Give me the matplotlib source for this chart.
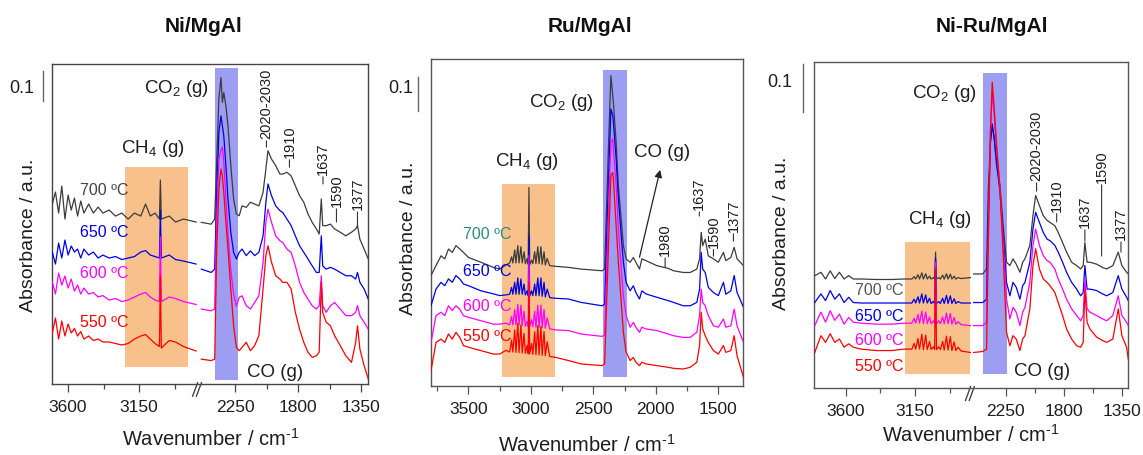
import numpy as np
import matplotlib
matplotlib.use("Agg")
import matplotlib.pyplot as plt
from matplotlib.ticker import FixedLocator
from matplotlib.scale import FuncScale
from matplotlib.transforms import blended_transform_factory

plt.rcParams['font.family'] = ['Liberation Sans', 'DejaVu Sans']
plt.rcParams['mathtext.fontset'] = 'custom'
plt.rcParams['mathtext.rm'] = 'Liberation Sans'
plt.rcParams['mathtext.it'] = 'Liberation Sans:italic'
plt.rcParams['mathtext.bf'] = 'Liberation Sans:bold'

# ---------------- data ----------------
temperatures = ['700 ºC', '650 ºC', '600 ºC', '550 ºC']
panel_titles = ['Ni/MgAl', 'Ru/MgAl', 'Ni-Ru/MgAl']

# Ni/MgAl  (left part of broken axis)
ni_wn_left = [3700, 3680, 3660, 3640, 3620, 3600, 3580, 3560, 3540, 3520, 3500, 3470, 3440, 3410,
              3380, 3340, 3300, 3260, 3220, 3180, 3140, 3110, 3080, 3050, 3022, 3016, 3010, 2960,
              2920, 2870, 2790]
ni_left_700 = [.60, .64, .57, .66, .55, .63, .58, .62, .56, .61, .57, .60, .57, .59, .57, .58, .56,
               .57, .55, .57, .56, .60, .56, .57, .55, .68, .55, .56, .54, .55, .54]
ni_left_650 = [.44, .40, .47, .42, .48, .43, .46, .44, .45, .42, .45, .43, .44, .42, .43, .42, .425,
               .415, .42, .425, .44, .445, .43, .425, .42, .58, .42, .43, .415, .41, .40]
ni_left_600 = [.34, .30, .37, .33, .36, .32, .35, .31, .33, .30, .32, .30, .305, .29, .295, .28, .285,
               .275, .28, .29, .30, .305, .29, .28, .275, .49, .275, .29, .285, .275, .265]
ni_left_550 = [.17, .22, .15, .21, .16, .20, .17, .185, .16, .175, .15, .16, .145, .15, .14, .14, .135,
               .13, .135, .15, .16, .165, .15, .135, .125, .36, .12, .145, .14, .125, .11]
# Ni/MgAl  (right part of broken axis)
ni_wn_right = [2490, 2420, 2395, 2380, 2365, 2350, 2340, 2330, 2315, 2300, 2280, 2260, 2240, 2220,
               2200, 2170, 2140, 2110, 2080, 2050, 2030, 2015, 1990, 1960, 1930, 1910, 1880, 1850,
               1820, 1790, 1760, 1730, 1700, 1670, 1650, 1635, 1625, 1600, 1570, 1540, 1500, 1460,
               1420, 1390, 1377, 1360, 1330, 1300]
ni_right_700 = [.539, .533, .55, .75, .95, 1.022, .939, .972, .928, .861, .728, .617, .567, .561, .594,
                .589, .606, .6, .594, .639, .717, .778, .75, .728, .7, .7, .706, .694, .661, .628, .606,
                .567, .539, .517, .5, .617, .528, .528, .533, .517, .506, .494, .506, .517, .528, .483,
                .45, .417]
ni_right_650 = [.383, .372, .383, .639, .839, .894, .861, .828, .728, .617, .506, .439, .417, .439, .45,
                .428, .444, .428, .439, .494, .606, .667, .628, .594, .578, .572, .55, .528, .494, .461,
                .439, .417, .394, .372, .372, .494, .394, .383, .389, .383, .372, .361, .361, .35, .372,
                .339, .317, .283]
ni_right_600 = [.25, .244, .25, .561, .75, .78, .79, .74, .62, .50, .38, .30, .26, .289, .294, .261, .25,
                .272, .294, .406, .539, .583, .539, .494, .478, .472, .45, .439, .394, .339, .306, .283,
                .261, .25, .261, .361, .261, .239, .261, .272, .25, .228, .228, .239, .261, .228, .206,
                .183]
ni_right_550 = [.083, .078, .083, .45, .65, .717, .694, .639, .539, .45, .317, .194, .122, .111, .122,
                .139, .111, .128, .161, .317, .428, .461, .406, .361, .35, .339, .339, .317, .239, .183,
                .139, .106, .089, .094, .106, .339, .239, .206, .194, .161, .128, .094, .072, .139, .194,
                .117, .061, .017]

# Ru/MgAl (continuous axis)
ru_wn = [3800, 3760, 3720, 3690, 3660, 3630, 3600, 3570, 3540, 3500, 3400, 3300, 3250,
         3200, 3170, 3155, 3145, 3130, 3120, 3105, 3095, 3080, 3070, 3055, 3045, 3030, 3022, 3016,
         3010, 2995, 2985, 2970, 2960, 2945, 2935, 2920, 2910, 2895, 2885, 2870, 2850, 2800,
         2700, 2600, 2430, 2410, 2380, 2360, 2345, 2340, 2318, 2300, 2273, 2260, 2238, 2206, 2180,
         2160, 2131, 2112, 2080, 1992, 1900, 1859, 1780, 1725, 1672, 1650, 1637, 1625, 1605, 1580,
         1539, 1500, 1459, 1440, 1400, 1373, 1350, 1298]
ru_700 = [.325, .354, .383, .374, .403, .393, .413, .403, .393, .378, .364, .349, .344,
          .356, .362, .38, .362, .40, .362, .413, .362, .41, .362, .395, .36, .375, .358, .584,
          .356, .37, .36, .395, .36, .41, .36, .41, .358, .395, .356, .375, .354, .352,
          .349, .344, .339, .344, .697, .913, .854, .834, .717, .589, .472, .413, .374, .364, .378,
          .364, .344, .374, .369, .354, .346, .339, .334, .334, .344, .374, .452, .413, .432, .383,
          .374, .364, .393, .369, .378, .408, .374, .354]
ru_650 = [.236, .285, .305, .295, .315, .305, .325, .315, .3, .295, .28, .271, .266,
          .268, .27, .29, .27, .305, .27, .318, .27, .315, .27, .30, .268, .28, .266, .442,
          .264, .28, .266, .30, .266, .318, .266, .318, .264, .305, .262, .285, .26, .258,
          .256, .246, .236, .241, .599, .815, .796, .775, .668, .55, .423, .364, .305, .28, .295,
          .275, .256, .28, .271, .261, .251, .246, .236, .236, .246, .285, .393, .344, .334, .29,
          .275, .266, .305, .27, .28, .325, .275, .231]
ru_600 = [.128, .207, .217, .207, .236, .222, .236, .226, .207, .202, .192, .182, .182,
          .185, .18, .205, .18, .225, .18, .24, .18, .238, .178, .22, .176, .19, .175, .383,
          .174, .195, .174, .22, .173, .238, .172, .238, .171, .225, .17, .20, .168, .165,
          .163, .153, .146, .15, .501, .717, .727, .697, .589, .462, .325, .266, .207, .173, .187,
          .173, .158, .173, .168, .163, .153, .148, .143, .143, .158, .207, .285, .246, .236, .207,
          .177, .173, .197, .173, .177, .226, .177, .128]
ru_550 = [.045, .128, .138, .128, .153, .138, .158, .143, .119, .114, .104, .094, .094,
          .105, .10, .135, .10, .165, .099, .185, .098, .18, .097, .155, .096, .12, .095, .305,
          .094, .125, .093, .16, .092, .178, .091, .175, .09, .16, .089, .13, .087, .084,
          .075, .065, .06, .065, .403, .619, .628, .609, .472, .364, .226, .158, .1, .075, .084,
          .07, .06, .07, .065, .06, .055, .052, .05, .055, .07, .119, .217, .168, .148, .128,
          .104, .094, .119, .099, .104, .148, .089, .025]

# Ni-Ru/MgAl (left part of broken axis)
nr_wn_left = [3800, 3760, 3730, 3700, 3670, 3640, 3610, 3580, 3550, 3500, 3400, 3300,
              3220, 3170, 3155, 3145, 3130, 3120, 3105, 3095, 3080, 3070, 3055, 3045, 3030, 3022,
              3016, 3010, 2995, 2985, 2970, 2960, 2945, 2935, 2920, 2910, 2895, 2885, 2870, 2850, 2790]
nr_left_700 = [.234, .241, .227, .244, .228, .241, .227, .234, .227, .227, .226, .226,
               .227, .227, .232, .227, .236, .227, .24, .227, .238, .227, .233, .227, .23, .227,
               .283, .227, .23, .227, .235, .227, .238, .227, .237, .227, .233, .227, .23, .228, .23]
nr_left_650 = [.178, .196, .182, .203, .185, .196, .178, .189, .178, .177, .177, .177,
               .177, .177, .185, .177, .19, .177, .196, .177, .194, .177, .187, .176, .18, .176,
               .27, .176, .18, .176, .187, .176, .193, .176, .192, .176, .186, .176, .18, .177, .177]
nr_left_600 = [.13, .158, .137, .161, .141, .154, .133, .147, .137, .135, .133, .133,
               .135, .135, .145, .135, .153, .135, .16, .134, .158, .134, .148, .134, .14, .134,
               .262, .134, .14, .134, .148, .134, .156, .134, .155, .133, .147, .133, .138, .132, .13]
nr_left_550 = [.074, .109, .095, .113, .095, .102, .085, .092, .085, .081, .078, .078,
               .081, .081, .093, .081, .103, .081, .112, .08, .11, .08, .097, .08, .086, .08,
               .248, .08, .086, .08, .097, .079, .108, .079, .107, .078, .096, .078, .085, .077, .074]
# Ni-Ru/MgAl (right part of broken axis)
nr_wn_right = [2500, 2430, 2400, 2387, 2370, 2356, 2340, 2322, 2296, 2271, 2245, 2219, 2195, 2170,
               2141, 2120, 2102, 2064, 2040, 2019, 1990, 1960, 1930, 1908, 1870, 1844, 1810, 1779,
               1740, 1701, 1670, 1650, 1637, 1620, 1598, 1546, 1500, 1468, 1420, 1378, 1350, 1313, 1300]
nr_right_700 = [.2375, .2375, .248, .408, .512, .547, .519, .463, .422, .338, .262, .255, .269, .258,
                .241, .262, .269, .297, .359, .401, .38, .359, .349, .345, .338, .324, .303, .283, .262,
                .255, .248, .255, .303, .262, .262, .258, .251, .248, .255, .283, .255, .241, .2375]
nr_right_650 = [.178, .178, .185, .359, .512, .55, .519, .47, .408, .317, .22, .192, .22, .21, .185,
                .213, .22, .262, .331, .366, .345, .324, .31, .307, .297, .283, .262, .241, .22, .206,
                .192, .199, .255, .206, .206, .203, .196, .192, .199, .234, .206, .189, .182]
nr_right_600 = [.13, .13, .137, .317, .533, .616, .567, .498, .415, .303, .185, .144, .168, .158, .13,
                .158, .168, .22, .297, .331, .297, .276, .265, .262, .248, .227, .206, .185, .165, .151,
                .14, .151, .227, .165, .158, .151, .144, .14, .151, .192, .151, .137, .13]
nr_right_550 = [.074, .076, .081, .29, .533, .637, .581, .505, .415, .276, .116, .088, .109, .102, .078,
                .102, .109, .165, .255, .29, .248, .227, .22, .213, .199, .178, .151, .123, .102, .088,
                .085, .095, .206, .137, .123, .106, .099, .095, .102, .165, .109, .085, .06]

major_ticks_broken = [3600, 3150, 2250, 1800, 1350]
minor_ticks_broken = [3375, 2925, 2025, 1575]
major_ticks_ru = [3500, 3000, 2500, 2000, 1500]
minor_ticks_ru = [3750, 3250, 2750, 2250, 1750]

# ---------------- style ----------------
line_colors = ['#3c3c3c', '#0000e6', '#ff00ff', '#ff0000']
ORANGE = '#f8c08a'
BLUE = '#9d9df2'
TXT = '#1e1e1e'


def broken_scale(hi, brk_hi, brk_lo, lo, px_left, px_right):
    """piecewise-linear scale squeezing the gap brk_lo..brk_hi (px_* = pixels per cm-1)"""
    r = (brk_lo - lo) * px_right
    l = r + 0.01
    t = l + (hi - brk_hi) * px_left
    xp = np.array([lo - 1e5, lo, brk_lo, brk_hi, hi, hi + 1e5])
    fp = np.array([-1e5 * px_right, 0, r, l, t, t + 1e5 * px_left])

    def fwd(x):
        return np.interp(np.asarray(x, float), xp, fp)

    def inv(u):
        return np.interp(np.asarray(u, float), fp, xp)
    return fwd, inv


def style_axes(ax, spine_color):
    for s in ax.spines.values():
        s.set_color(spine_color)
        s.set_linewidth(1.0)
    ax.set_yticks([])
    ax.tick_params(axis='x', which='major', direction='out', length=6, width=0.9,
                   color=spine_color, labelsize=12.5, pad=4.5, labelcolor=TXT)
    ax.tick_params(axis='x', which='minor', direction='out', length=3.5, width=0.9,
                   color=spine_color)


def scale_bar(ax, x_frac, y0, y1, text_x, text_y):
    tr = blended_transform_factory(ax.transAxes, ax.transData)
    ax.plot([x_frac, x_frac], [y0, y1], transform=tr, clip_on=False, color='#666666', lw=1.0)
    ax.text(text_x, text_y, '0.1', transform=tr, ha='center', va='center', fontsize=13, color=TXT)


def break_marks(ax, xf):
    for dx in (-0.012, 0.0):
        ax.plot([xf + dx - 0.008, xf + dx + 0.008], [-0.038, 0.004], transform=ax.transAxes,
                clip_on=False, color='#444444', lw=1.0)


def peak_label(ax, text, w, y_tip, y_text, fs=10.5):
    ax.annotate(text, xy=(w, y_tip), xytext=(w, y_text), rotation=90, ha='center', va='bottom',
                fontsize=fs, color=TXT,
                arrowprops=dict(arrowstyle='-', color='#333333', lw=0.8, shrinkA=0, shrinkB=0))


fig = plt.figure(figsize=(11.43, 4.56), dpi=100)
W, H = 1143.0, 456.0
ax1 = fig.add_axes([52.3 / W, (H - 385) / H, 316 / W, 320 / H])
ax2 = fig.add_axes([431 / W, (H - 387) / H, 312.3 / W, 327 / H])
ax3 = fig.add_axes([814 / W, (H - 389) / H, 314.3 / W, 326 / H])

XLAB = 'Wavenumber / cm$^{\\text{-}1}$'

# ---------- panel 1 : Ni/MgAl ----------
f1, i1 = broken_scale(3700, 2772, 2507, 1300, 1 / 6.34, 1 / 7.14)
ax1.set_xscale(FuncScale(ax1, (f1, i1)))
ax1.set_xlim(3700, 1300)
ax1.set_ylim(0, 1.067)
ax1.fill_between([3239, 2844], 0.056, 0.722, color=ORANGE, lw=0, zorder=1)
ax1.fill_between([2393, 2227], 0.013, 1.052, color=BLUE, lw=0, zorder=1)
for ys_l, ys_r, c in zip([ni_left_700, ni_left_650, ni_left_600, ni_left_550],
                         [ni_right_700, ni_right_650, ni_right_600, ni_right_550], line_colors):
    ax1.plot(ni_wn_left, ys_l, color=c, lw=0.9, zorder=3)
    ax1.plot(ni_wn_right, ys_r, color=c, lw=0.9, zorder=3)
ax1.xaxis.set_major_locator(FixedLocator(major_ticks_broken))
ax1.xaxis.set_minor_locator(FixedLocator(minor_ticks_broken))
style_axes(ax1, '#444444')
break_marks(ax1, 0.464)
scale_bar(ax1, -0.029, 0.944, 1.044, -0.096, 0.99)
ax1.text(2916, 0.99, 'CO$_2$ (g)', ha='center', va='center', fontsize=13.5, color=TXT)
ax1.text(3062, 0.79, 'CH$_4$ (g)', ha='center', va='center', fontsize=13.5, color=TXT)
ax1.text(1962, 0.043, 'CO (g)', ha='center', va='center', fontsize=13.5, color=TXT)
peak_label(ax1, '2020-2030', 2026, 0.79, 0.82)
peak_label(ax1, '1910', 1862, 0.723, 0.757)
peak_label(ax1, '1637', 1623, 0.667, 0.70)
peak_label(ax1, '1590', 1527, 0.54, 0.593)
peak_label(ax1, '1377', 1377, 0.527, 0.583)
for lab, y, c in zip(temperatures, [0.65, 0.507, 0.373, 0.21],
                     ['#444444', '#0000e6', '#ff00ff', '#ff0000']):
    ax1.text(3525, y, lab, color=c, fontsize=11.5, ha='left', va='center')

# ---------- panel 2 : Ru/MgAl ----------
ax2.set_xlim(3800, 1300)
ax2.set_ylim(0, 0.962)
ax2.fill_between([3234, 2807], 0.026, 0.594, color=ORANGE, lw=0, zorder=1)
ax2.fill_between([2425, 2232], 0.026, 0.93, color=BLUE, lw=0, zorder=1)
for ys, c in zip([ru_700, ru_650, ru_600, ru_550], line_colors):
    ax2.plot(ru_wn, ys, color=c, lw=0.9, zorder=3)
ax2.xaxis.set_major_locator(FixedLocator(major_ticks_ru))
ax2.xaxis.set_minor_locator(FixedLocator(minor_ticks_ru))
style_axes(ax2, '#555555')
scale_bar(ax2, -0.042, 0.809, 0.909, -0.096, 0.879)
ax2.text(2751, 0.838, 'CO$_2$ (g)', ha='center', va='center', fontsize=13.5, color=TXT)
ax2.text(3031, 0.662, 'CH$_4$ (g)', ha='center', va='center', fontsize=13.5, color=TXT)
ax2.text(1950, 0.691, 'CO (g)', ha='center', va='center', fontsize=13.5, color=TXT)
ax2.annotate('', xy=(1966, 0.636), xytext=(2131, 0.379),
             arrowprops=dict(arrowstyle='-|>', color='#222222', lw=0.9, mutation_scale=11,
                             shrinkA=0, shrinkB=0))
peak_label(ax2, '1980', 1926, 0.35, 0.385)
peak_label(ax2, '1637', 1652, 0.50, 0.52)
peak_label(ax2, '1590', 1539, 0.382, 0.41)
peak_label(ax2, '1377', 1379, 0.426, 0.456)
for lab, y, c in zip(temperatures, [0.45, 0.339, 0.236, 0.15],
                     ['#2b8c80', '#0000e6', '#ff00ff', '#ff0000']):
    ax2.text(3544, y, lab, color=c, fontsize=11.5, ha='left', va='center')

# ---------- panel 3 : Ni-Ru/MgAl ----------
f3, i3 = broken_scale(3805, 2782, 2516, 1300, 1 / 6.49, 1 / 7.76)
ax3.set_xscale(FuncScale(ax3, (f3, i3)))
ax3.set_xlim(3805, 1300)
ax3.set_ylim(0, 0.679)
ax3.fill_between([3214, 2792], 0.029, 0.304, color=ORANGE, lw=0, zorder=1)
ax3.fill_between([2426, 2244], 0.029, 0.656, color=BLUE, lw=0, zorder=1)
for ys_l, ys_r, c in zip([nr_left_700, nr_left_650, nr_left_600, nr_left_550],
                         [nr_right_700, nr_right_650, nr_right_600, nr_right_550], line_colors):
    ax3.plot(nr_wn_left, ys_l, color=c, lw=0.9, zorder=3)
    ax3.plot(nr_wn_right, ys_r, color=c, lw=0.9, zorder=3)
ax3.xaxis.set_major_locator(FixedLocator(major_ticks_broken))
ax3.xaxis.set_minor_locator(FixedLocator(minor_ticks_broken))
style_axes(ax3, '#555555')
break_marks(ax3, 0.502)
scale_bar(ax3, -0.035, 0.575, 0.675, -0.108, 0.6375)
ax3.text(2956, 0.616, 'CO$_2$ (g)', ha='center', va='center', fontsize=13.5, color=TXT)
ax3.text(2988, 0.352, 'CH$_4$ (g)', ha='center', va='center', fontsize=13.5, color=TXT)
ax3.text(1967, 0.036, 'CO (g)', ha='center', va='center', fontsize=13.5, color=TXT)
peak_label(ax3, '2020-2030', 2012, 0.41, 0.433)
peak_label(ax3, '1910', 1856, 0.346, 0.369)
peak_label(ax3, '1637', 1637, 0.306, 0.335)
peak_label(ax3, '1590', 1507, 0.275, 0.429)
peak_label(ax3, '1377', 1357, 0.283, 0.31)
for lab, y, c in zip(temperatures, [0.206, 0.151, 0.102, 0.046],
                     ['#555555', '#0000e6', '#ff00ff', '#ff0000']):
    ax3.text(3540, y, lab, color=c, fontsize=11.5, ha='left', va='center')

# ---------- labels & titles ----------
for ax, xl_y, yl_x, yl_y in [(ax1, -0.134, -0.049, 0.469), (ax2, -0.144, -0.045, 0.456),
                             (ax3, -0.107, -0.076, 0.479)]:
    ax.set_xlabel(XLAB, fontsize=14.5, color=TXT)
    ax.xaxis.set_label_coords(0.5, xl_y)
    ax.set_ylabel('Absorbance / a.u.', fontsize=14, color=TXT)
    ax.yaxis.set_label_coords(yl_x, yl_y)

for title, xc in zip(panel_titles, [204, 590, 992]):
    fig.text(xc / W, 1 - 27 / H, title, ha='center', va='center', fontsize=15,
             fontweight='bold', color='#111111')

fig.savefig('out.png', dpi=100)
